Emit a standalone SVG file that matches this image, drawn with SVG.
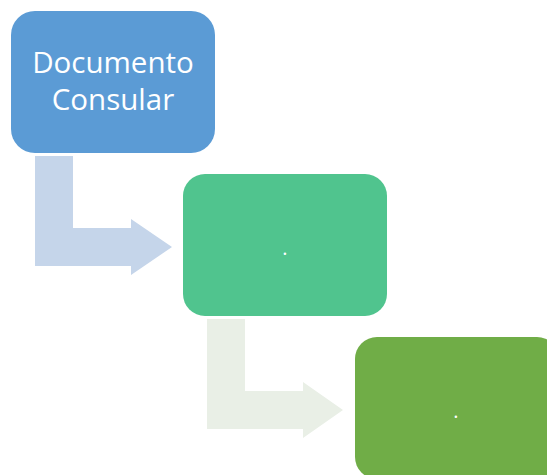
<svg xmlns="http://www.w3.org/2000/svg" width="547" height="475" viewBox="0 0 547 475">
<style>
.lbl{font-family:"Open Sans","Liberation Sans",Arial,sans-serif;fill:#ffffff;text-anchor:middle}
.big{font-size:29.5px}
.dot{font-size:20px}
</style>
<rect width="547" height="475" fill="#ffffff"/>
<g id="connectors">
<path id="arrow1" d="M35,156 H73 V228 H131 V219 L172,247 L131,275 V266 H35 Z" fill="#c5d5ea"/>
<path id="arrow2" d="M207,319 H245 V391 H303 V382 L343,410 L303,438 V429 H207 Z" fill="#e9efe6"/>
</g>
<g id="node1">
<rect x="11" y="11" width="204" height="142" rx="24" fill="#5b9bd5"/>
<text class="lbl big" x="113" y="73">Documento</text>
<text class="lbl big" x="113" y="110">Consular</text>
</g>
<g id="node2">
<rect x="183" y="174" width="204" height="142" rx="22" fill="#50c48e"/>
<text class="lbl dot" x="285" y="255">.</text>
</g>
<g id="node3">
<rect x="355" y="337" width="204" height="142" rx="22" fill="#70ad47"/>
<text class="lbl dot" x="456" y="418">.</text>
</g>
</svg>
